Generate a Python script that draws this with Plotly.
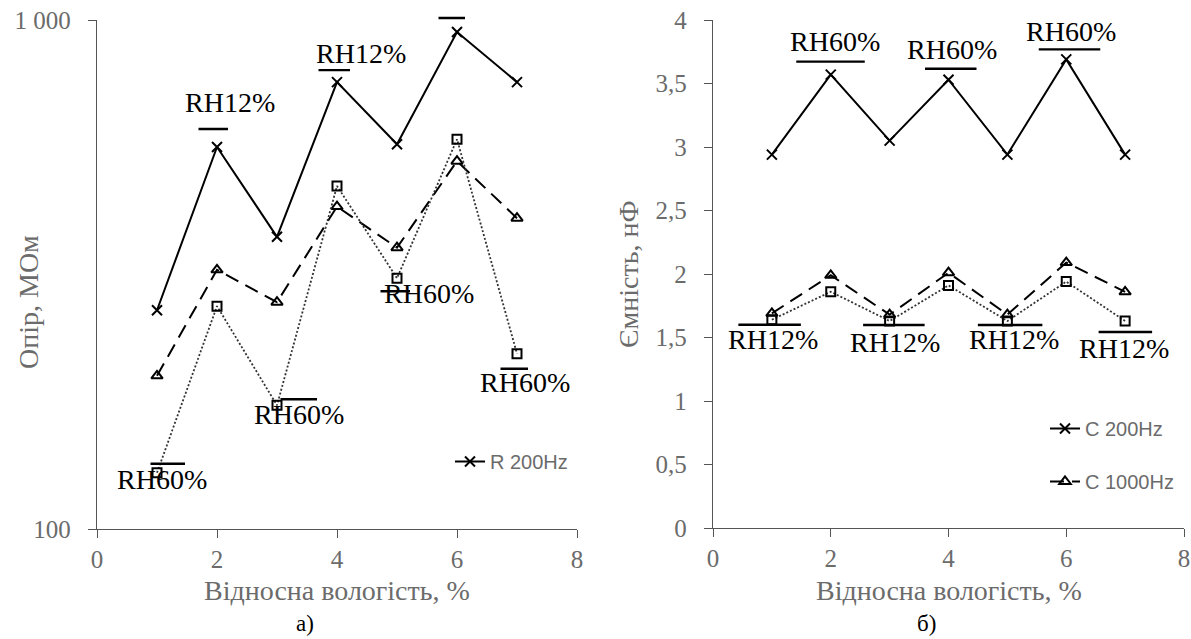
import numpy as np
import plotly.graph_objects as go

# ---------------- data ----------------
humidity = [1, 2, 3, 4, 5, 6, 7]

R_200Hz = [269, 563, 375, 755, 570, 947, 755]
R_1000Hz = [200, 323, 279, 430, 357, 528, 408]
R_10kHz = [129, 274, 175, 472, 311, 583, 221]

C_200Hz = [2.94, 3.57, 3.05, 3.53, 2.94, 3.69, 2.94]
C_1000Hz = [1.69, 1.99, 1.68, 2.01, 1.68, 2.09, 1.86]
C_10kHz = [1.64, 1.86, 1.63, 1.91, 1.63, 1.94, 1.63]

x_ticks = [0, 2, 4, 6, 8]
r_tickvals = [100, 1000]
r_ticktext = ["100", "1 000"]
c_tickvals = [0, 0.5, 1, 1.5, 2, 2.5, 3, 3.5, 4]
c_ticktext = ["0", "0,5", "1", "1,5", "2", "2,5", "3", "3,5", "4"]

x_title = "Відносна вологість, %"
r_title = "Опір, МОм"
c_title = "Ємність, нФ"

# labels: (series, point index, text)
r_labels = [("R_200Hz", 1, "RH12%"), ("R_200Hz", 3, "RH12%"), ("R_200Hz", 5, None),
            ("R_10kHz", 0, "RH60%"), ("R_10kHz", 2, "RH60%"), ("R_10kHz", 4, "RH60%"),
            ("R_10kHz", 6, "RH60%")]
c_labels = [("C_200Hz", 1, "RH60%"), ("C_200Hz", 3, "RH60%"), ("C_200Hz", 5, "RH60%"),
            ("C_10kHz", 0, "RH12%"), ("C_10kHz", 2, "RH12%"), ("C_10kHz", 4, "RH12%"),
            ("C_10kHz", 6, "RH12%")]

# ---------------- styling / layout helpers ----------------
W, H = 1191, 639
def px_x(p):
    return p / W
def px_y(p):
    return 1 - p / H

# pixel offsets for label text (dx, dy up) and overline bar (x0, x1, dy up)
r_label_style = [((13, 44), (-19, 11, 18)), ((24, 29), (-19, 13, 12)), (None, (-19, 8, 14)),
                 ((5, -7), (-7, 28, 9)), ((22, -9), (3, 40, 6)), ((32, -15), (-17, 13, -13)),
                 ((8, -29), (-17, 11, -15))]
c_label_style = [((4, 33), (-35, 34, 13)), ((3, 30), (-24, 28, 11)), ((5, 28), (-28, 34, 10)),
                 ((1, -20), (-34, 29, -5)), ((5, -22), (-27, 35, -4)), ((7, -19), (-30, 35, -4)),
                 ((-1, -28), (-27, 27, -11))]

series_r = {"R_200Hz": R_200Hz, "R_1000Hz": R_1000Hz, "R_10kHz": R_10kHz}
series_c = {"C_200Hz": C_200Hz, "C_1000Hz": C_1000Hz, "C_10kHz": C_10kHz}

SERIF = "Liberation Serif, 'Times New Roman', 'DejaVu Serif', serif"
SANS = "'Liberation Sans Narrow', 'Liberation Sans', Arial, sans-serif"
GREY = "#6b6b6b"
AXIS = "#555555"

fig = go.Figure()

def add_series(x, y, name, xa, ya, dash, width, color, symbol, msize, legend, show):
    fig.add_trace(go.Scatter(
        x=x, y=y, name=name, mode="lines+markers", xaxis=xa, yaxis=ya,
        line=dict(color=color, width=width, dash=dash),
        marker=dict(symbol=symbol, size=msize, color="black",
                    line=dict(color="black", width=2)),
        legend=legend, showlegend=show, legendgroup=name,
    ))

add_series(humidity, R_200Hz, "R 200Hz", "x", "y", "solid", 2, "black", "x-thin", 10, "legend", True)
add_series(humidity, R_1000Hz, "R 1000Hz", "x", "y", "14px,8px", 2, "black", "triangle-up-open", 10, "legend", False)
add_series(humidity, R_10kHz, "R 10kHz", "x", "y", "2px,2px", 1.8, "#333333", "square-open", 9, "legend", False)

add_series(humidity, C_200Hz, "C 200Hz", "x2", "y2", "solid", 2, "black", "x-thin", 10, "legend2", True)
add_series(humidity, C_1000Hz, "C 1000Hz", "x2", "y2", "14px,8px", 2, "black", "triangle-up-open", 10, "legend2", True)
add_series(humidity, C_10kHz, "C 10kHz", "x2", "y2", "2px,2px", 1.8, "#333333", "square-open", 9, "legend2", False)

annotations = []

def add_labels(labels, styles, series, xref, yref, logy):
    for (sname, idx, text), (tstyle, bstyle) in zip(labels, styles):
        xv = humidity[idx]
        yv = series[sname][idx]
        yv_ref = np.log10(yv) if logy else yv
        if text is not None and tstyle is not None:
            annotations.append(dict(
                x=xv, y=yv_ref, xref=xref, yref=yref, text=text, showarrow=False,
                xshift=tstyle[0], yshift=tstyle[1], xanchor="center", yanchor="middle",
                font=dict(family=SERIF, size=28, color="black"),
            ))
        x0, x1, dy = bstyle
        annotations.append(dict(
            x=xv, y=yv_ref, xref=xref, yref=yref, text="", showarrow=True,
            arrowhead=0, arrowwidth=2.4, arrowcolor="black", standoff=0,
            xshift=x1, yshift=dy, ax=x0 - x1, ay=0, borderpad=0,
        ))

add_labels(r_labels, r_label_style, series_r, "x", "y", True)
add_labels(c_labels, c_label_style, series_c, "x2", "y2", False)

titlefont = dict(family=SERIF, size=28, color=GREY)
ytitlefont = dict(family=SERIF, size=28, color=GREY)

# axis titles
annotations.append(dict(x=0.5, y=px_y(590), xref="x domain", yref="paper", text=x_title,
                        xanchor="center", yanchor="middle", showarrow=False, font=titlefont))
annotations.append(dict(x=0.5, y=px_y(590), xref="x2 domain", yref="paper", text=x_title,
                        xanchor="center", yanchor="middle", showarrow=False, font=titlefont))
annotations.append(dict(x=px_x(29), y=px_y(302), xref="paper", yref="paper", text=r_title,
                        textangle=-90, xanchor="center", yanchor="middle", showarrow=False,
                        font=ytitlefont))
annotations.append(dict(x=px_x(628), y=px_y(274), xref="paper", yref="paper", text=c_title,
                        textangle=-90, xanchor="center", yanchor="middle", showarrow=False,
                        font=ytitlefont))

# captions
annotations.append(dict(x=px_x(305), y=px_y(623), xref="paper", yref="paper", text="а)",
                        xanchor="center", yanchor="middle",
                        showarrow=False, font=dict(family=SERIF, size=23, color="black")))
annotations.append(dict(x=px_x(926), y=px_y(623), xref="paper", yref="paper", text="б)",
                        xanchor="center", yanchor="middle",
                        showarrow=False, font=dict(family=SERIF, size=23, color="black")))

tickfont = dict(family=SERIF, size=25, color=GREY)

common_x = dict(range=[0, 8], tickvals=x_ticks, showline=True, linecolor=AXIS, linewidth=1.3,
                ticks="outside", ticklen=8, tickcolor=AXIS, tickwidth=1.3, showgrid=False,
                zeroline=False, tickfont=tickfont, ticklabelstandoff=0, automargin=False)

fig.update_layout(
    template="none",
    width=W, height=H, margin=dict(l=0, r=0, t=0, b=0, autoexpand=False),
    paper_bgcolor="white", plot_bgcolor="white",
    xaxis=dict(domain=[px_x(97), px_x(577)], anchor="y", **common_x),
    xaxis2=dict(domain=[px_x(713), px_x(1184)], anchor="y2", **common_x),
    yaxis=dict(domain=[px_y(529), px_y(20)], anchor="x", type="log", range=[2, 3],
               tickvals=r_tickvals, ticktext=r_ticktext, showline=True, linecolor=AXIS,
               linewidth=1.3, ticks="outside", ticklen=8, tickcolor=AXIS, tickwidth=1.3,
               showgrid=False, zeroline=False, tickfont=tickfont, ticklabelstandoff=12,
               automargin=False),
    yaxis2=dict(domain=[px_y(528), px_y(20)], anchor="x2", range=[0, 4],
                tickvals=c_tickvals, ticktext=c_ticktext, showline=True, linecolor=AXIS,
                linewidth=1.3, ticks="outside", ticklen=8, tickcolor=AXIS, tickwidth=1.3,
                showgrid=False, zeroline=False, tickfont=tickfont, ticklabelstandoff=12,
                automargin=False),
    legend=dict(x=px_x(450), y=px_y(442), xanchor="left", yanchor="top",
                bgcolor="rgba(0,0,0,0)", font=dict(family=SANS, size=20, color=GREY)),
    legend2=dict(x=px_x(1045), y=px_y(409), xanchor="left", yanchor="top",
                 bgcolor="rgba(0,0,0,0)", font=dict(family=SANS, size=20, color=GREY),
                 traceorder="grouped", tracegroupgap=24),
    annotations=annotations,
)

fig.write_html("out.html")
